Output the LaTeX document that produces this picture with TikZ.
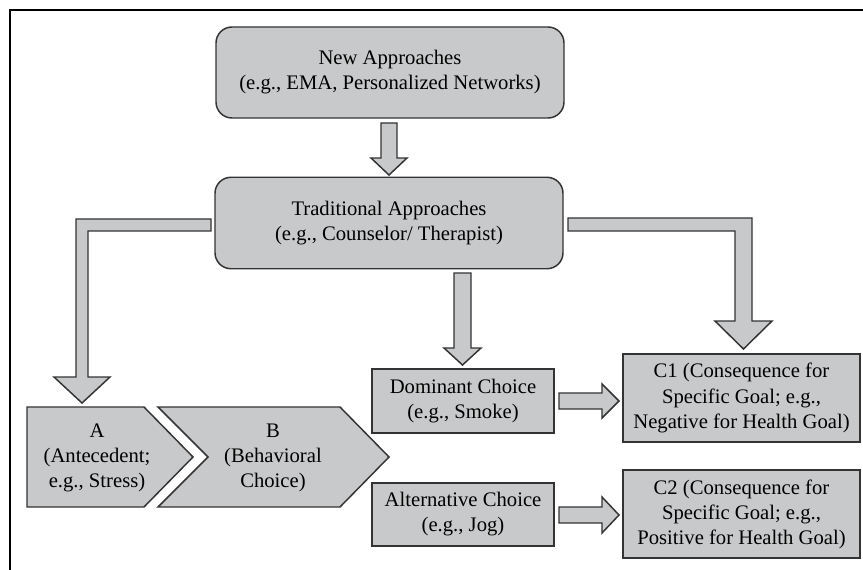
\documentclass[tikz,border=0pt]{standalone}
\usepackage{fontspec}
\setmainfont{Liberation Serif}
\definecolor{boxfill}{HTML}{C8C9CA}
\definecolor{boxline}{HTML}{333333}
\tikzset{
  shapebase/.style={fill=boxfill, draw=boxline, line width=1.1pt, line join=miter},
  roundbox/.style={shapebase, rounded corners=12pt, align=center, inner sep=0pt},
  plainbox/.style={shapebase, align=center, inner sep=0pt},
  blockarrow/.style={shapebase},
  labeltext/.style={align=center, inner sep=0pt},
  every node/.append style={font=\fontsize{15.5}{18.8}\selectfont}
}
\begin{document}
\begin{tikzpicture}[x=0.75pt, y=-0.75pt]
\useasboundingbox (0,0) rectangle (863,570);
% frame
\draw[line width=1.5pt, black] (863,10) -- (10,10) -- (10,570);

% boxes
\node[roundbox, minimum width=261pt, minimum height=68.25pt] (new) at (390,72.5)
  {New Approaches\\(e.g., EMA, Personalized Networks)};
\node[roundbox, minimum width=261pt, minimum height=68.6pt] (trad) at (389,223)
  {Traditional Approaches\\(e.g., Counselor/ Therapist)};
\node[plainbox, minimum width=136.5pt, minimum height=48pt] (dom) at (463,401)
  {Dominant Choice\\(e.g., Smoke)};
\node[plainbox, minimum width=136.5pt, minimum height=47.25pt] (alt) at (463,514.5)
  {Alternative Choice\\(e.g., Jog)};
\node[plainbox, minimum width=177.75pt, minimum height=66pt] (c1) at (741.5,398)
  {C1 (Consequence for\\Specific Goal; e.g.,\\Negative for Health Goal)};
\node[plainbox, minimum width=177.75pt, minimum height=66pt] (c2) at (741.5,514)
  {C2 (Consequence for\\Specific Goal; e.g.,\\Positive for Health Goal)};

% chevrons A and B
\draw[shapebase] (27,407) -- (144,407) -- (193,457) -- (144,507) -- (27,507) -- cycle;
\draw[shapebase] (158,407) -- (340,407) -- (389,457) -- (340,507) -- (158,507) -- (208,457) -- cycle;
\node[labeltext] (a) at (97,458) {A\\(Antecedent;\\e.g., Stress)};
\node[labeltext] (b) at (273,458) {B\\(Behavioral\\Choice)};

% block arrows
\draw[blockarrow] (381,123) -- (397,123) -- (397,158) -- (407,158) -- (389,175) -- (371,158) -- (381,158) -- cycle;
\draw[blockarrow] (454,273) -- (471,273) -- (471,348) -- (481,348) -- (462.5,365) -- (444,348) -- (454,348) -- cycle;
\draw[blockarrow] (211,219) -- (76,219) -- (76,377) -- (54,377) -- (82,403) -- (110,377) -- (88,377) -- (88,231) -- (211,231) -- cycle;
\draw[blockarrow] (568,218) -- (752,218) -- (752,321) -- (772,321) -- (743.5,349) -- (715,321) -- (735,321) -- (735,231) -- (568,231) -- cycle;
\draw[blockarrow] (559,393) -- (602,393) -- (602,384) -- (619,401) -- (602,418) -- (602,409) -- (559,409) -- cycle;
\draw[blockarrow] (559,507) -- (602,507) -- (602,497) -- (619,515) -- (602,533) -- (602,523) -- (559,523) -- cycle;
\end{tikzpicture}
\end{document}
